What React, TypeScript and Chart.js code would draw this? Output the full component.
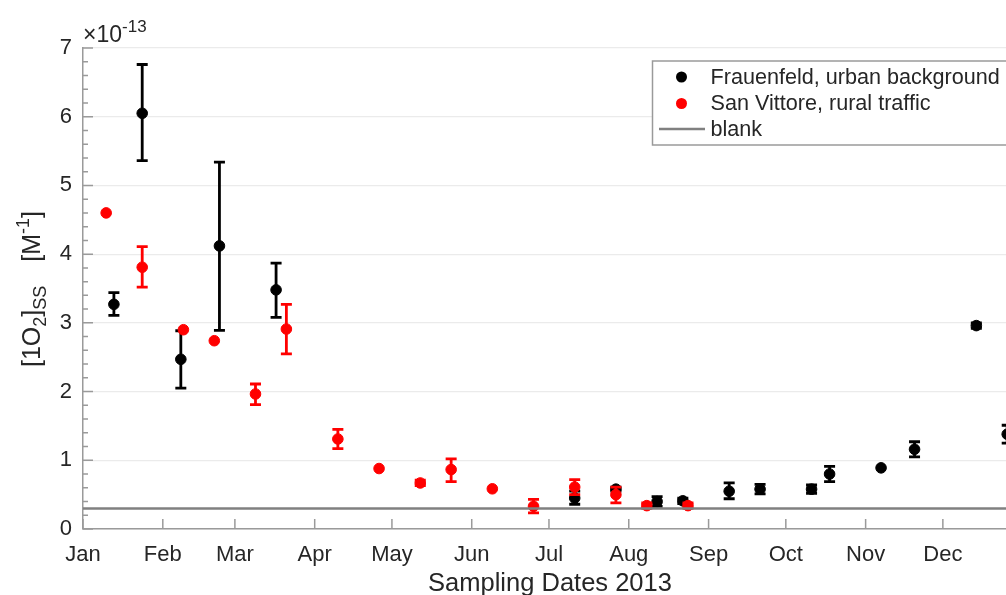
import React, { useEffect, useRef } from "react";
import { Chart, registerables } from "chart.js";

Chart.register(...registerables);

// ---------- data ----------
const MONTH_LABELS = ["Jan", "Feb", "Mar", "Apr", "May", "Jun", "Jul", "Aug", "Sep", "Oct", "Nov", "Dec"];
const MONTH_START_DAYS = [0, 31, 59, 90, 120, 151, 181, 212, 243, 273, 304, 334];
const X_MIN = 0;
const X_MAX = 362.8;
const Y_MIN = 0;
const Y_MAX = 7;
const Y_EXPONENT = -13;
const BLANK_LEVEL = 0.3;

const FRAUENFELD_LABEL = "Frauenfeld, urban background";
const FRAUENFELD_DATES = ["01-13", "01-24", "02-08", "02-23", "03-17", "07-11", "07-27", "08-12", "08-22", "09-09", "09-21", "10-11", "10-18", "11-07", "11-20", "12-14", "12-26"];
const FRAUENFELD_VALUES = [3.27, 6.05, 2.47, 4.12, 3.48, 0.45, 0.58, 0.40, 0.41, 0.55, 0.58, 0.58, 0.80, 0.89, 1.16, 2.96, 1.38];
const FRAUENFELD_LOW = [3.11, 5.36, 2.05, 2.89, 3.08, 0.36, 0.55, 0.33, 0.37, 0.44, 0.51, 0.52, 0.69, null, 1.05, 2.92, 1.25];
const FRAUENFELD_HIGH = [3.44, 6.76, 2.885, 5.34, 3.87, 0.55, 0.61, 0.47, 0.45, 0.67, 0.65, 0.64, 0.91, null, 1.27, 3.0, 1.51];

const SANVITTORE_LABEL = "San Vittore, rural traffic";
const SANVITTORE_DATES = ["01-10", "01-24", "02-09", "02-21", "03-09", "03-21", "04-10", "04-26", "05-12", "05-24", "06-09", "06-25", "07-11", "07-27", "08-08", "08-24"];
const SANVITTORE_VALUES = [4.6, 3.81, 2.9, 2.74, 1.965, 2.91, 1.31, 0.88, 0.67, 0.865, 0.585, 0.33, 0.61, 0.5, 0.34, 0.34];
const SANVITTORE_LOW = [null, 3.52, null, null, 1.81, 2.55, 1.17, null, 0.63, 0.69, null, 0.235, 0.5, 0.38, 0.3, 0.3];
const SANVITTORE_HIGH = [null, 4.11, null, null, 2.11, 3.27, 1.45, null, 0.71, 1.02, null, 0.43, 0.72, 0.61, 0.38, 0.38];

const BLANK_LABEL = "blank";

// ---------- layout / style ----------
const CANVAS_W = 1040;
const CANVAS_H = 595;
const FONT = "'Liberation Sans', Arial, Helvetica, sans-serif";
const TEXT = "#262626";
const AXIS = "#9a9a9a";
const BLACK = "#000000";
const RED = "#ff0000";
const BLANK_COLOR = "#808080";

function dayOfYear(s: string): number {
  const [m, d] = s.split("-").map(Number);
  return (Date.UTC(2013, m - 1, d) - Date.UTC(2013, 0, 1)) / 86400000;
}

function toPoints(dates: string[], values: number[]) {
  return dates.map((d, i) => ({ x: dayOfYear(d), y: values[i] }));
}

const errorBarPlugin = {
  id: "errorBars",
  afterDatasetDraw(chart: any, args: any) {
    const ds = chart.data.datasets[args.index];
    if (!ds.errLow) return;
    const { ctx, scales } = chart;
    const xs = scales.x;
    const ys = scales.y;
    ctx.save();
    ctx.strokeStyle = ds.backgroundColor;
    ctx.lineWidth = 2.8;
    ds.data.forEach((p: any, i: number) => {
      const lo = ds.errLow[i];
      const hi = ds.errHigh[i];
      if (lo == null || hi == null) return;
      const px = xs.getPixelForValue(p.x);
      const pl = ys.getPixelForValue(lo);
      const ph = ys.getPixelForValue(hi);
      const cw = 5.5;
      ctx.beginPath();
      ctx.moveTo(px, pl);
      ctx.lineTo(px, ph);
      ctx.moveTo(px - cw, pl);
      ctx.lineTo(px + cw, pl);
      ctx.moveTo(px - cw, ph);
      ctx.lineTo(px + cw, ph);
      ctx.stroke();
    });
    ctx.restore();
  },
};

type Part = { t: string; size: number; dy: number; gap?: number };

function drawRich(ctx: CanvasRenderingContext2D, parts: Part[], x: number, y: number) {
  let cx = x;
  parts.forEach((p) => {
    cx += p.gap || 0;
    ctx.font = `${p.size}px ${FONT}`;
    ctx.fillText(p.t, cx, y + p.dy);
    cx += ctx.measureText(p.t).width;
  });
  return cx - x;
}

function measureRich(ctx: CanvasRenderingContext2D, parts: Part[]) {
  let w = 0;
  parts.forEach((p) => {
    w += p.gap || 0;
    ctx.font = `${p.size}px ${FONT}`;
    w += ctx.measureText(p.t).width;
  });
  return w;
}

const decorPlugin = {
  id: "decor",
  afterDraw(chart: any) {
    const { ctx, chartArea, scales } = chart;
    const { left, bottom, top } = chartArea;
    const xs = scales.x;
    const ys = scales.y;
    ctx.save();
    // inward ticks
    ctx.strokeStyle = AXIS;
    ctx.lineWidth = 1.5;
    ctx.beginPath();
    MONTH_START_DAYS.forEach((d) => {
      const px = xs.getPixelForValue(d);
      ctx.moveTo(px, bottom);
      ctx.lineTo(px, bottom - 10);
    });
    for (let k = 0; k <= (Y_MAX - Y_MIN) * 5; k++) {
      const v = Y_MIN + k * 0.2;
      const py = ys.getPixelForValue(v);
      const major = k % 5 === 0;
      ctx.moveTo(left, py);
      ctx.lineTo(left + (major ? 10 : 5), py);
    }
    ctx.stroke();

    // exponent label
    ctx.fillStyle = TEXT;
    ctx.textBaseline = "alphabetic";
    ctx.textAlign = "left";
    drawRich(
      ctx,
      [
        { t: "\u00d710", size: 23, dy: 0 },
        { t: String(Y_EXPONENT), size: 17, dy: -10 },
      ],
      left,
      top - 6
    );

    // y-axis label (rotated)
    const yParts: Part[] = [
      { t: "[1O", size: 25, dy: 0 },
      { t: "2", size: 18, dy: 6 },
      { t: "]", size: 25, dy: 0 },
      { t: "SS", size: 18, dy: 6 },
      { t: "[M", size: 25, dy: 0, gap: 24 },
      { t: "-1", size: 18, dy: -11 },
      { t: "]", size: 25, dy: 0 },
    ];
    const yw = measureRich(ctx, yParts);
    ctx.save();
    ctx.translate(40, 289);
    ctx.rotate(-Math.PI / 2);
    drawRich(ctx, yParts, -yw / 2, 0);
    ctx.restore();

    // x-axis label
    ctx.font = `25.5px ${FONT}`;
    ctx.textAlign = "center";
    ctx.fillText("Sampling Dates 2013", (chartArea.left + chartArea.right) / 2, 591);

    // legend
    const lx = 652.5;
    const ly = 61;
    const lw = 360;
    const lh = 84;
    ctx.fillStyle = "#ffffff";
    ctx.fillRect(lx, ly, lw, lh);
    ctx.strokeStyle = AXIS;
    ctx.lineWidth = 1.5;
    ctx.strokeRect(lx, ly, lw, lh);
    const items = [
      { label: FRAUENFELD_LABEL, color: BLACK, kind: "dot", y: 77 },
      { label: SANVITTORE_LABEL, color: RED, kind: "dot", y: 103.5 },
      { label: BLANK_LABEL, color: BLANK_COLOR, kind: "line", y: 129 },
    ];
    items.forEach((it) => {
      if (it.kind === "dot") {
        ctx.fillStyle = it.color;
        ctx.beginPath();
        ctx.arc(681.5, it.y, 5.5, 0, Math.PI * 2);
        ctx.fill();
      } else {
        ctx.strokeStyle = it.color;
        ctx.lineWidth = 2.5;
        ctx.beginPath();
        ctx.moveTo(659, it.y);
        ctx.lineTo(705, it.y);
        ctx.stroke();
      }
      ctx.fillStyle = TEXT;
      ctx.font = `21.6px ${FONT}`;
      ctx.textAlign = "left";
      ctx.textBaseline = "middle";
      ctx.fillText(it.label, 710.5, it.y + 1);
    });
    ctx.restore();
  },
};

export default function App() {
  const ref = useRef<HTMLCanvasElement>(null);

  useEffect(() => {
    if (!ref.current) return;
    Chart.defaults.font.family = FONT;
    const chart = new Chart(ref.current, {
      type: "scatter",
      data: {
        datasets: [
          {
            type: "line",
            label: BLANK_LABEL,
            data: [
              { x: X_MIN, y: BLANK_LEVEL },
              { x: X_MAX, y: BLANK_LEVEL },
            ],
            borderColor: BLANK_COLOR,
            borderWidth: 2.5,
            pointRadius: 0,
            fill: false,
          } as any,
          {
            label: SANVITTORE_LABEL,
            data: toPoints(SANVITTORE_DATES, SANVITTORE_VALUES),
            backgroundColor: RED,
            borderColor: RED,
            borderWidth: 1,
            pointRadius: 5.3,
            errLow: SANVITTORE_LOW,
            errHigh: SANVITTORE_HIGH,
            clip: false,
          } as any,
          {
            label: FRAUENFELD_LABEL,
            data: toPoints(FRAUENFELD_DATES, FRAUENFELD_VALUES),
            backgroundColor: BLACK,
            borderColor: BLACK,
            borderWidth: 1,
            pointRadius: 5.3,
            errLow: FRAUENFELD_LOW,
            errHigh: FRAUENFELD_HIGH,
            clip: false,
          } as any,
        ],
      },
      options: {
        animation: false,
        responsive: false,
        devicePixelRatio: 1,
        layout: { padding: { left: 0, top: 48, right: CANVAS_W - 1017, bottom: 0 } },
        plugins: {
          legend: { display: false },
          tooltip: { enabled: false },
        },
        scales: {
          x: {
            type: "linear",
            min: X_MIN,
            max: X_MAX,
            afterBuildTicks: (scale: any) => {
              scale.ticks = MONTH_START_DAYS.map((v) => ({ value: v }));
            },
            afterFit: (scale: any) => {
              scale.height = CANVAS_H - 529;
            },
            ticks: {
              autoSkip: false,
              maxRotation: 0,
              padding: 13,
              color: TEXT,
              font: { size: 22, family: FONT },
              callback: (value: any) => {
                const i = MONTH_START_DAYS.indexOf(Number(value));
                return i >= 0 ? MONTH_LABELS[i] : "";
              },
            },
            grid: { display: false, drawTicks: false },
            border: { display: true, color: AXIS, width: 1.5 },
          },
          y: {
            type: "linear",
            min: Y_MIN,
            max: Y_MAX,
            afterFit: (scale: any) => {
              scale.width = 83;
            },
            ticks: {
              stepSize: 1,
              padding: 11,
              color: TEXT,
              font: { size: 22, family: FONT },
            },
            grid: { display: true, color: "#ebebeb", lineWidth: 1.2, drawTicks: false },
            border: { display: true, color: AXIS, width: 1.5 },
          },
        },
      },
      plugins: [errorBarPlugin, decorPlugin],
    } as any);
    return () => chart.destroy();
  }, []);

  return (
    <div
      style={{
        position: "fixed",
        left: 0,
        top: 0,
        width: 1006,
        height: 595,
        overflow: "hidden",
        background: "#ffffff",
      }}
    >
      <canvas ref={ref} width={CANVAS_W} height={CANVAS_H} style={{ display: "block", width: CANVAS_W, height: CANVAS_H }} />
    </div>
  );
}
